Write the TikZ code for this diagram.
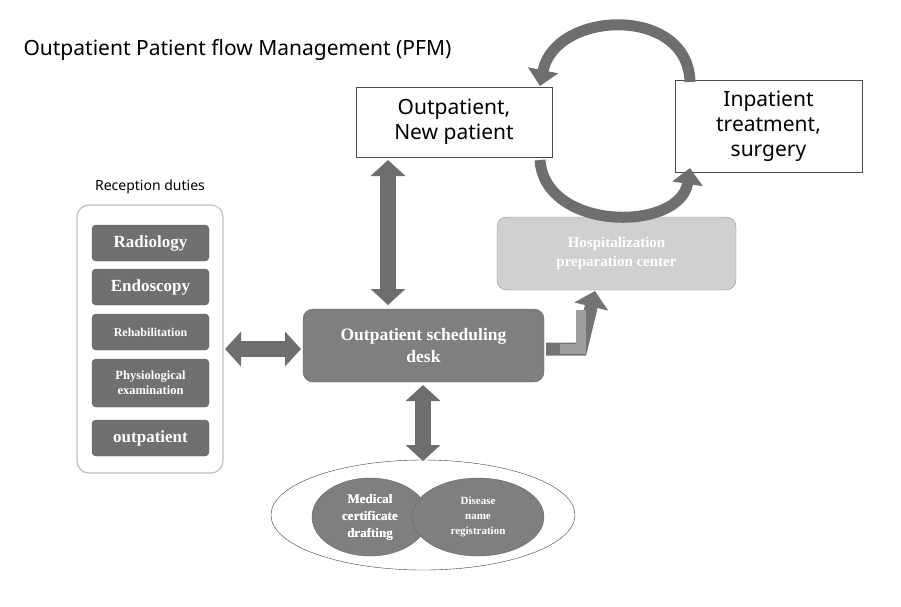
\documentclass[tikz,border=0pt]{standalone}
\usepackage{fontspec}
\setmainfont{Liberation Serif}
\newfontfamily\gsans{Noto Sans}
\usetikzlibrary{arrows.meta,shapes.geometric}
\definecolor{dk}{HTML}{707070}
\definecolor{md}{HTML}{7F7F7F}
\definecolor{lt}{HTML}{D0D0D0}
\definecolor{ar}{HTML}{6E6E6E}
\begin{document}
\begin{tikzpicture}[x=1pt,y=-1pt,
 wbox/.style={draw=black!70,fill=white,font=\gsans\fontsize{21}{25}\selectfont,align=center,inner sep=0},
 sub/.style={draw=dk!80!black,fill=dk,rounded corners=4pt,text=white,font=\bfseries,align=center,inner sep=0,minimum width=117pt},
 dbl/.style={draw=ar!80!black,line width=16pt,ar,{Triangle[width=34pt,length=16pt]}-{Triangle[width=34pt,length=16pt]}},
 curv/.style={line width=11pt,ar,-{Triangle[width=30pt,length=16pt]}}]
\useasboundingbox (0,0) rectangle (901,606);
\node[anchor=west,font=\gsans\fontsize{21}{25}\selectfont] (title) at (20,50) {Outpatient Patient flow Management (PFM)};
\node[wbox,minimum width=196pt,minimum height=70pt] (op) at (454,122) {Outpatient,\\New patient};
\node[wbox,minimum width=187pt,minimum height=92pt] (ip) at (768.5,126) {Inpatient\\treatment,\\surgery};
\node[font=\gsans\fontsize{14}{16}\selectfont] (rd) at (150,187) {Reception duties};
\node[draw=black!25,line width=1.2pt,rounded corners=12pt,minimum width=146pt,minimum height=268pt] (panel) at (150,339) {};
\node[sub,minimum height=36pt,font=\bfseries\fontsize{17}{19}\selectfont] (r1) at (150.5,243) {Radiology};
\node[sub,minimum height=36pt,font=\bfseries\fontsize{17}{19}\selectfont] (r2) at (150.5,287) {Endoscopy};
\node[sub,minimum height=36pt,font=\bfseries\fontsize{12}{14}\selectfont] (r3) at (150.5,332) {Rehabilitation};
\node[sub,minimum height=48pt,font=\bfseries\fontsize{12.5}{15}\selectfont] (r4) at (150.5,383) {Physiological\\examination};
\node[sub,minimum height=36pt,font=\bfseries\fontsize{17}{19}\selectfont] (r5) at (150.5,438) {outpatient};
\node[draw=md!80!black,fill=md,rounded corners=10pt,text=white,font=\bfseries\fontsize{17.5}{22}\selectfont,align=center,minimum width=241pt,minimum height=73pt] (desk) at (423.5,345.5) {Outpatient scheduling\\desk};
\node[draw=black!45,fill=lt,rounded corners=10pt,text=white,font=\bfseries\fontsize{15}{19}\selectfont,align=center,minimum width=239pt,minimum height=73pt] (hp) at (616.5,253.5) {Hospitalization\\preparation center};
\node[ellipse,draw=black!75,fill=white,minimum width=304pt,minimum height=110pt] (outer) at (423,515) {};
\node[ellipse,draw=black!60,fill=md,minimum width=116pt,minimum height=78pt,text=white,font=\bfseries\fontsize{13}{17}\selectfont,align=center,inner sep=0] (mc) at (370,517) {Medical\\certificate\\drafting};
\node[ellipse,draw=black!60,fill=md,minimum width=132pt,minimum height=78pt,text=white,font=\bfseries\fontsize{11}{15}\selectfont,align=center,inner sep=0] (dn) at (478,517) {Disease\\name\\registration};
\node[draw=none,fill=none,text=white,font=\bfseries\fontsize{13}{17}\selectfont,align=center] at (370,517) {Medical\\certificate\\drafting};
% arrows
\coordinate (a1) at (388,160);
\coordinate (a2) at (388,305);
\draw[dbl] (a1) -- (a2);
\coordinate (b1) at (225,349);
\coordinate (b2) at (301,349);
\draw[dbl] (b1) -- (b2);
\coordinate (c1) at (423,385);
\coordinate (c2) at (423,461);
\draw[dbl] (c1) -- (c2);
\coordinate (e1) at (546,349);
\coordinate (e2) at (595,291);
\draw[line width=13pt,draw=black!55,-{Triangle[width=34pt,length=16pt]},line join=miter] (e1) -- ++(35,0) -- (e2);
\draw[line width=10.5pt,draw=black!38,line join=miter,shorten >=1pt] (e1)++(14,0) -- ++(21,0) -- ++(0,-40);
\coordinate (t1) at (690,82);
\coordinate (t2) at (540,86);
\draw[curv] (t1) .. controls (688,5) and (555,10) .. (t2);
\coordinate (u1) at (540,160);
\coordinate (u2) at (690,168);
\draw[curv] (u1) .. controls (545,232) and (680,232) .. (u2);
\end{tikzpicture}
\end{document}
